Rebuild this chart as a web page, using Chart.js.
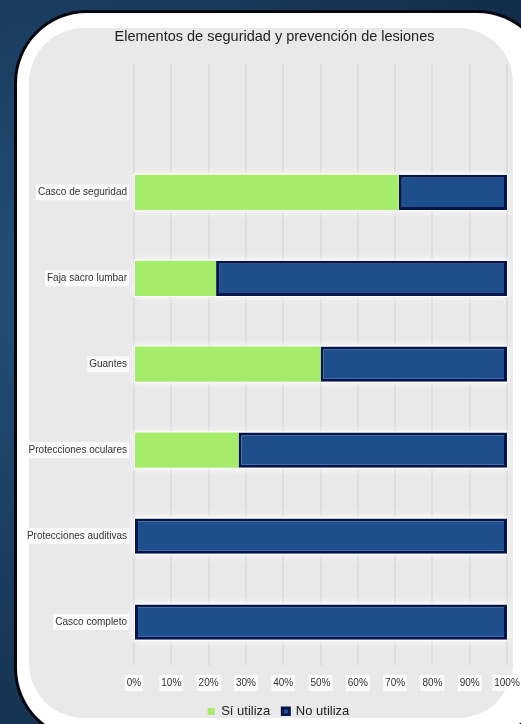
<!DOCTYPE html>
<html>
<head>
<meta charset="utf-8">
<script src="https://cdn.jsdelivr.net/npm/chart.js@4"></script>
<style>
	html, body { margin: 0; padding: 0; }
	body {
		width: 521px;
		height: 724px;
		overflow: hidden;
		position: relative;
		background: radial-gradient(circle at 10% 40%, #24507a 0%, #1a3c5e 45%, #0f2742 100%);
		font-family: "Liberation Sans", Arial, sans-serif;
	}
	.panel {
		position: absolute;
		left: 17px;
		top: 13px;
		width: 530px;
		height: 725px;
		border-radius: 70px;
		background: #ffffff;
		box-shadow: 0 0 0 3px #03070f;
	}
	.plot-bg {
		position: absolute;
		left: 29px;
		top: 28px;
		width: 484px;
		height: 690px;
		border-radius: 55px;
		background: #e9e9e9;
	}
	#chart { position: absolute; left: 0; top: 0; }
</style>
</head>
<body>
<div class="panel"></div>
<div class="plot-bg"></div>
<canvas id="chart" width="521" height="724"></canvas>
<script>
const categories = [
	"Casco de seguridad",
	"Faja sacro lumbar",
	"Guantes",
	"Protecciones oculares",
	"Protecciones auditivas",
	"Casco completo",
]
const siUtiliza = [71, 22, 50, 28, 0, 0]
const noUtiliza = [29, 78, 50, 72, 100, 100]
const percentTicks = [0, 10, 20, 30, 40, 50, 60, 70, 80, 90, 100]

// soft white halo behind every bar, painted before the bars themselves
const barGlow = {
	id: "barGlow",
	beforeDatasetsDraw(chart) {
		const ctx = chart.ctx
		ctx.save()
		ctx.shadowColor = "rgba(255,255,255,1)"
		ctx.shadowBlur = 8
		ctx.fillStyle = "#ffffff"
		chart.getSortedVisibleDatasetMetas().forEach((meta) => {
			meta.data.forEach((bar) => {
				const { x, y, base, height } = bar.getProps(["x", "y", "base", "height"], true)
				const left = Math.min(x, base)
				const w = Math.abs(x - base)
				if (w > 0) ctx.fillRect(left - 1, y - height / 2 - 1, w + 2, height + 2)
			})
		})
		ctx.restore()
	},
}

// vertical grid lines continue above the first bar up to the top of the plot
const gridExtend = {
	id: "gridExtend",
	beforeDatasetsDraw(chart) {
		const { ctx, chartArea, scales } = chart
		ctx.save()
		ctx.strokeStyle = "#dcdcdc"
		ctx.lineWidth = 2
		percentTicks.forEach((v) => {
			const x = Math.round(scales.x.getPixelForValue(v))
			ctx.beginPath()
			ctx.moveTo(x, 64)
			ctx.lineTo(x, chartArea.top)
			ctx.stroke()
		})
		ctx.restore()
	},
}

// title and legend sit centred on the grey plot panel, not on the canvas
const centerOnPanel = {
	id: "centerOnPanel",
	afterLayout(chart) {
		chart.titleBlock.left += 21
		chart.titleBlock.right += 21
		chart.legend.left += 25
		chart.legend.right += 25
		chart.legend.top -= 8
		chart.legend.bottom -= 8
	},
}

new Chart(document.getElementById("chart"), {
	type: "bar",
	data: {
		labels: categories,
		datasets: [
			{
				label: "Sí utiliza",
				data: siUtiliza,
				backgroundColor: "#a4ec6a",
				borderWidth: 0,
				barPercentage: 0.82,
				categoryPercentage: 0.5,
			},
			{
				label: "No utiliza",
				data: noUtiliza,
				backgroundColor: "#1f4e8d",
				borderColor: "#04154d",
				borderWidth: 3,
				borderSkipped: false,
				barPercentage: 0.82,
				categoryPercentage: 0.5,
			},
		],
	},
	options: {
		indexAxis: "y",
		responsive: false,
		animation: false,
		layout: { padding: { top: 25, right: 14, bottom: 0, left: 0 } },
		plugins: {
			title: {
				display: true,
				text: "Elementos de seguridad y prevención de lesiones",
				color: "#222",
				font: { family: "Liberation Sans", size: 14.5, weight: "normal" },
				padding: { top: 3, bottom: 104 },
			},
			legend: {
				position: "bottom",
				maxHeight: 23,
				labels: {
					color: "#222",
					font: { family: "Liberation Sans", size: 13 },
					boxWidth: 7,
					boxHeight: 7,
					padding: 12,
				},
			},
			tooltip: { enabled: false },
		},
		scales: {
			x: {
				stacked: true,
				min: 0,
				max: 100,
				afterBuildTicks(scale) {
					scale.ticks = percentTicks.map((v) => ({ value: v }))
				},
				afterFit(scale) {
					scale.paddingLeft = 0
					scale.paddingRight = 0
				},
				ticks: {
					callback: (v) => v + "%",
					color: "#333",
					font: { family: "Liberation Sans", size: 10 },
					padding: 12,
					showLabelBackdrop: true,
					backdropColor: "rgba(255,255,255,0.75)",
					backdropPadding: 2,
				},
				grid: { color: "#dcdcdc", lineWidth: 2, drawTicks: false },
				border: { display: false },
			},
			y: {
				stacked: true,
				afterFit(scale) { scale.width = 134 },
				ticks: {
					color: "#333",
					font: { family: "Liberation Sans", size: 10 },
					padding: 7,
					showLabelBackdrop: true,
					backdropColor: "rgba(255,255,255,0.75)",
					backdropPadding: 2,
				},
				grid: { display: false, drawTicks: false },
				border: { display: false },
			},
		},
	},
	plugins: [gridExtend, barGlow, centerOnPanel],
})
</script>
</body>
</html>
